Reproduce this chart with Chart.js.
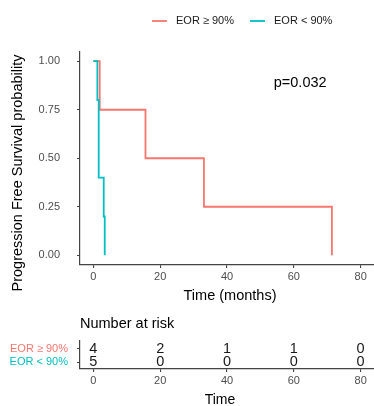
<!DOCTYPE html>
<html>
<head>
<meta charset="utf-8">
<script src="https://cdn.jsdelivr.net/npm/chart.js@4.4.0/dist/chart.umd.min.js"></script>
<style>
  html,body{margin:0;padding:0;background:#fff;}
  #wrap{position:relative;width:374px;height:406px;}
  canvas{position:absolute;left:0;}
  #km{top:0;}
  #risk{top:310px;}
</style>
</head>
<body>
<div id="wrap">
  <canvas id="km" width="374" height="310"></canvas>
  <canvas id="risk" width="374" height="96"></canvas>
</div>
<script>
// data
const groups = ["EOR ≥ 90%", "EOR < 90%"];
const groupColors = ["#F8766D", "#00BFC4"];
const timeHigh = [0, 1.9, 15.6, 33.1, 71.4];
const survHigh = [1, 0.75, 0.5, 0.25, 0];
const timeLow = [0, 1.2, 1.6, 3.1, 3.4];
const survLow = [1, 0.8, 0.4, 0.2, 0];
const xTicks = [0, 20, 40, 60, 80];
const yTicks = [0, 0.25, 0.5, 0.75, 1];
const riskTimes = [0, 20, 40, 60, 80];
const riskHigh = [4, 2, 1, 1, 0];
const riskLow = [5, 0, 0, 0, 0];
const pText = "p=0.032";
const pCoord = [54, 0.886];

// style
const FONT = "'Liberation Sans', Arial, sans-serif";
const AXIS = "#444444";
const TICK_TXT = "#4d4d4d";
const TXT = "#1a1a1a";

function pts(t, s){ return t.map((v,i)=>({x:v, y:s[i]})); }

const axisGrid = { display:true, drawOnChartArea:false, drawTicks:true, tickLength:3, color:AXIS, lineWidth:1.1 };
const axisBorder = { display:true, color:AXIS, width:1.2 };

function xScale(h){
  return {
    type:"linear", min:-4, max:84,
    afterBuildTicks: s=>{ s.ticks = xTicks.map(v=>({value:v})); },
    afterFit: s=>{ s.height = h; },
    grid: axisGrid, border: axisBorder,
    ticks:{ color:TICK_TXT, font:{family:FONT,size:11}, padding:2, maxRotation:0, autoSkip:false }
  };
}

// main plot texts: legend, titles, p value
const kmText = {
  id:"kmText",
  afterDraw(chart){
    const {ctx, scales:{x,y}} = chart;
    ctx.save();
    // legend
    ctx.font = "11px " + FONT;
    ctx.textBaseline = "middle";
    ctx.textAlign = "left";
    let lx = 152;
    groups.forEach((g,i)=>{
      ctx.strokeStyle = groupColors[i];
      ctx.lineWidth = 1.8;
      ctx.beginPath(); ctx.moveTo(lx, 21); ctx.lineTo(lx+15, 21); ctx.stroke();
      ctx.fillStyle = TXT;
      ctx.fillText(g, lx+24, 21);
      lx += 24 + ctx.measureText(g).width + 16;
    });
    // p value
    ctx.font = "14.5px " + FONT;
    ctx.fillStyle = "#000";
    ctx.fillText(pText, x.getPixelForValue(pCoord[0]), y.getPixelForValue(pCoord[1]));
    // x title
    ctx.textAlign = "center";
    ctx.fillText("Time (months)", 230, 296);
    // y title
    ctx.translate(18, 173);
    ctx.rotate(-Math.PI/2);
    ctx.fillText("Progression Free Survival probability", 0, 0);
    ctx.restore();
  }
};

new Chart(document.getElementById("km"), {
  type:"line",
  data:{ datasets:[
    { label:groups[0], data:pts(timeHigh, survHigh), borderColor:groupColors[0], stepped:true, order:1 },
    { label:groups[1], data:pts(timeLow, survLow), borderColor:groupColors[1], stepped:true, order:0 }
  ]},
  options:{
    responsive:false, animation:false, devicePixelRatio:1,
    layout:{ padding:{ top:51.5, left:0, right:0, bottom:0 } },
    elements:{ point:{ radius:0 }, line:{ borderWidth:1.8, tension:0, fill:false } },
    plugins:{ legend:{ display:false }, tooltip:{ enabled:false } },
    scales:{
      x: xScale(45),
      y: {
        type:"linear", min:-0.05, max:1.05,
        afterBuildTicks: s=>{ s.ticks = yTicks.map(v=>({value:v})); },
        afterFit: s=>{ s.width = 80; },
        grid: axisGrid, border: axisBorder,
        ticks:{ color:TICK_TXT, font:{family:FONT,size:11}, padding:17, callback: v=>Number(v).toFixed(2) }
      }
    }
  },
  plugins:[kmText]
});

// risk table
const riskCounts = [riskHigh, riskLow];
const riskText = {
  id:"riskText",
  afterDatasetsDraw(chart){
    const {ctx} = chart;
    ctx.save();
    ctx.font = "14.5px " + FONT;
    ctx.fillStyle = TXT;
    ctx.textAlign = "center";
    ctx.textBaseline = "middle";
    riskCounts.forEach((row,i)=>{
      chart.getDatasetMeta(i).data.forEach((p,j)=>{
        ctx.fillText(String(row[j]), p.x, p.y);
      });
    });
    ctx.textAlign = "left";
    ctx.fillStyle = "#000";
    ctx.fillText("Number at risk", 80, 14);
    ctx.textAlign = "center";
    ctx.font = "14px " + FONT;
    ctx.fillText("Time", 220, 90);
    ctx.restore();
  }
};

new Chart(document.getElementById("risk"), {
  type:"scatter",
  data:{ datasets: riskCounts.map((row,i)=>({
    label:groups[i],
    data: riskTimes.map(t=>({x:t, y:i+1})),
    pointRadius:0, showLine:false
  }))},
  options:{
    responsive:false, animation:false, devicePixelRatio:1,
    layout:{ padding:{ top:30.5, left:0, right:0, bottom:0 } },
    plugins:{ legend:{ display:false }, tooltip:{ enabled:false } },
    scales:{
      x: xScale(37),
      y: {
        type:"linear", reverse:true, min:0.36, max:2.5,
        afterBuildTicks: s=>{ s.ticks = groups.map((g,i)=>({value:i+1})); },
        afterFit: s=>{ s.width = 80; },
        grid: axisGrid, border: axisBorder,
        ticks:{ color: c=>groupColors[c.index], font:{family:FONT,size:11}, padding:9, callback: v=>groups[v-1] }
      }
    }
  },
  plugins:[riskText]
});
</script>
</body>
</html>
